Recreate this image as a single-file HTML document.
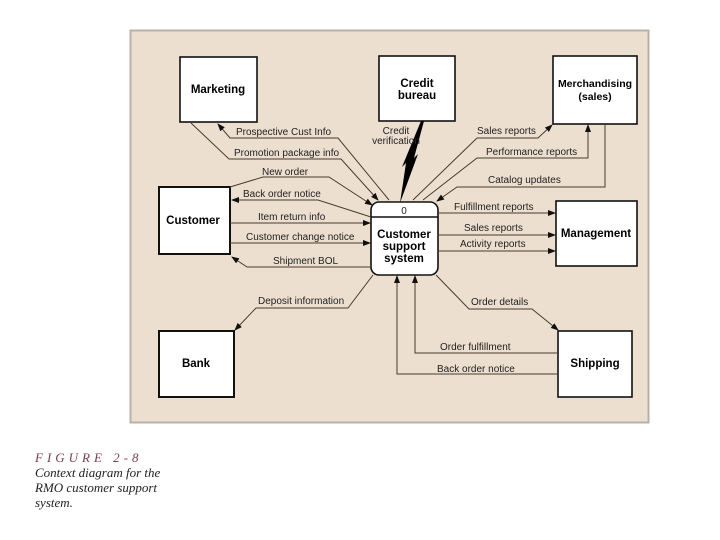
<!DOCTYPE html>
<html><head><meta charset="utf-8"><style>
html,body{margin:0;padding:0;background:#fff;width:720px;height:540px;overflow:hidden}
svg{display:block}
.l{font-family:"Liberation Sans",sans-serif;font-size:10px;fill:#222}
.b{font-family:"Liberation Sans",sans-serif;font-size:11.5px;font-weight:bold;fill:#000}
.c{font-family:"Liberation Serif",serif;font-style:italic;font-size:13px;fill:#222}
</style></head><body>
<svg width="720" height="540" viewBox="0 0 720 540" xmlns="http://www.w3.org/2000/svg">
<defs><marker id="a" markerWidth="8" markerHeight="6" refX="7" refY="3" orient="auto" markerUnits="userSpaceOnUse"><path d="M0,0L8,3L0,6z" fill="#111"/></marker></defs>
<rect x="130.5" y="30.5" width="518" height="392" fill="#ecdfcf" stroke="#b8b0a8" stroke-width="2"/>
<g fill="#fff" stroke="#111" stroke-width="1.6">
<rect x="180" y="57" width="77" height="65"/>
<rect x="379" y="56" width="76" height="65"/>
<rect x="553" y="56" width="84" height="68"/>
<rect x="159" y="187" width="71" height="67" stroke-width="2"/>
<rect x="556" y="201" width="81" height="65"/>
<rect x="159" y="331" width="75" height="66" stroke-width="2"/>
<rect x="558" y="331" width="74" height="66"/>
<rect x="371" y="202" width="67" height="73" rx="8"/>
<line x1="371" y1="217" x2="438" y2="217"/>
</g>
<text class="b" x="218" y="93" text-anchor="middle">Marketing</text>
<text class="b" x="417" y="87" text-anchor="middle">Credit</text>
<text class="b" x="417" y="99" text-anchor="middle">bureau</text>
<text class="b" x="595" y="87" text-anchor="middle" style="font-size:10.5px">Merchandising</text>
<text class="b" x="595" y="100" text-anchor="middle" style="font-size:10.5px">(sales)</text>
<text class="b" x="193" y="224" text-anchor="middle">Customer</text>
<text class="b" x="596" y="237" text-anchor="middle">Management</text>
<text class="b" x="196" y="367" text-anchor="middle">Bank</text>
<text class="b" x="595" y="367" text-anchor="middle">Shipping</text>
<text class="l" x="404" y="214" text-anchor="middle" font-size="11">0</text>
<text class="b" x="404" y="238" text-anchor="middle">Customer</text>
<text class="b" x="404" y="250" text-anchor="middle">support</text>
<text class="b" x="404" y="262" text-anchor="middle">system</text>
<g fill="none" stroke="#4a3a30" stroke-width="1" marker-end="url(#a)">
<polyline points="389,200 338,138 230,138 218,124"/>
<polyline points="191,123 229,159 341,159 378,200"/>
<polyline points="230,187 263,177 329,177 372,205"/>
<polyline points="371,217 318,200 232,200"/>
<polyline points="230,223 370,223"/>
<polyline points="230,243 370,243"/>
<polyline points="371,267 247,267 232,257"/>
<polyline points="413,200 477,138 538,138 552,125"/>
<polyline points="423,200 477,158 588,158 588,125"/>
<polyline points="605,125 605,187 457,187 437,201"/>
<polyline points="438,213 555,213"/>
<polyline points="438,235 555,235"/>
<polyline points="438,251 555,251"/>
<polyline points="373,275 348,308 256,308 235,330"/>
<polyline points="436,275 469,309 532,309 558,330"/>
<polyline points="558,353 415,353 415,276"/>
<polyline points="558,374 397,374 397,276"/>
</g>
<polygon points="421,121 424,121 414,158 418,154 400,203 406,163 402,167" fill="#000"/>
<g class="l">
<text x="236" y="135">Prospective Cust Info</text>
<text x="234" y="156">Promotion package info</text>
<text x="262" y="175">New order</text>
<text x="243" y="197">Back order notice</text>
<text x="258" y="220">Item return info</text>
<text x="246" y="240">Customer change notice</text>
<text x="273" y="264">Shipment BOL</text>
<text x="396" y="134" text-anchor="middle">Credit</text>
<text x="396" y="144" text-anchor="middle">verification</text>
<text x="477" y="134">Sales reports</text>
<text x="486" y="155">Performance reports</text>
<text x="488" y="183">Catalog updates</text>
<text x="454" y="210">Fulfillment reports</text>
<text x="464" y="231">Sales reports</text>
<text x="460" y="247">Activity reports</text>
<text x="258" y="304">Deposit information</text>
<text x="471" y="305">Order details</text>
<text x="440" y="350">Order fulfillment</text>
<text x="437" y="372">Back order notice</text>
</g>
<text class="c" x="35" y="462" style="fill:#7a4050;letter-spacing:4px">FIGURE  2-8</text>
<text class="c" x="35" y="477">Context diagram for the</text>
<text class="c" x="35" y="492">RMO customer support</text>
<text class="c" x="35" y="507">system.</text>
</svg>
</body></html>
